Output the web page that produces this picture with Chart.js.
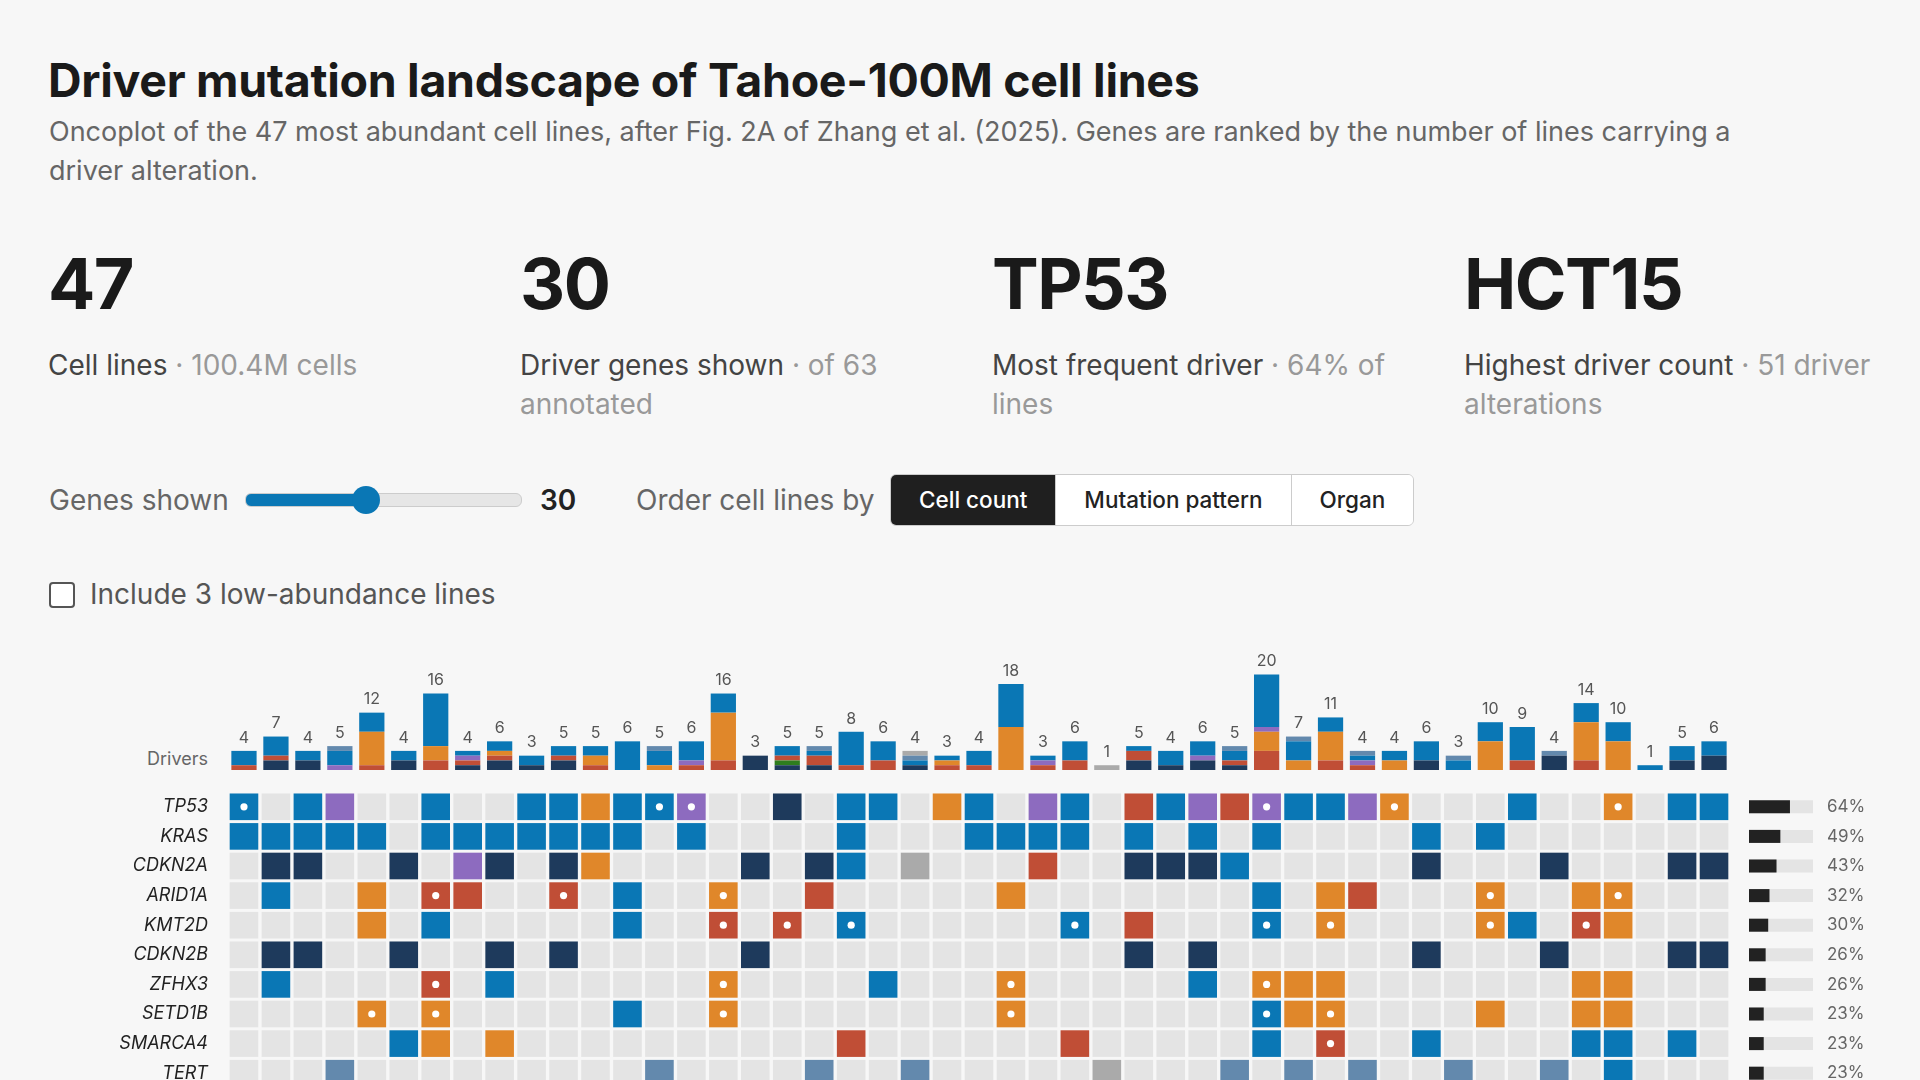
<!DOCTYPE html>
<html>
<head>
<meta charset="utf-8">
<script src="https://cdn.jsdelivr.net/npm/chart.js@4.4.1/dist/chart.umd.min.js"></script>
<style>
  html, body { margin: 0; width: 1920px; height: 1080px; overflow: hidden; background: #f7f7f7; font-family: Inter, "Noto Sans", sans-serif; color: #1a1a1a; }
  .abs { position: absolute; }
  h1 { margin: 0; font-size: 46.5px; font-weight: 700; line-height: 54px; letter-spacing: -0.3px; }
  .sub { font-size: 27px; line-height: 39px; color: #666; width: 1760px; }
  .stat { width: 420px; }
  .stat .big { font-size: 70px; font-weight: 700; line-height: 80px; letter-spacing: -1.5px; }
  .stat .lbl { font-size: 28px; line-height: 39px; color: #444; margin-top: 22px; }
  .stat .lbl span { color: #999; }
  .ctl { font-size: 28px; color: #666; line-height: 32px; }
  input[type=range] { -webkit-appearance: none; appearance: none; width: 275px; height: 12px; border-radius: 6px; margin: 0;
    background: linear-gradient(to right, #0a77b5 0%, #0a77b5 43%, #e6e6e6 43%, #e6e6e6 100%); border: 1px solid #ccc; }
  input[type=range]::-webkit-slider-thumb { -webkit-appearance: none; width: 28px; height: 28px; border-radius: 50%; background: #0a77b5; border: none; }
  .btns { display: flex; border: 1px solid #ccc; border-radius: 6px; overflow: hidden; height: 50px; }
  .btns div { font-size: 22.5px; font-weight: 500; padding: 0 28px; line-height: 50px; color: #222; background: #fff; border-left: 1px solid #ccc; }
  .btns div:first-child { border-left: none; background: #1f1f1f; color: #fff; }
  .chk { width: 22px; height: 22px; border: 2px solid #555; border-radius: 4px; background: #fff; }
</style>
</head>
<body>
<h1 class="abs" style="left:48px;top:53px">Driver mutation landscape of Tahoe-100M cell lines</h1>
<div class="abs sub" style="left:49px;top:112px">Oncoplot of the 47 most abundant cell lines, after Fig. 2A of Zhang et al. (2025). Genes are ranked by the number of lines carrying a driver alteration.</div>

<div class="abs stat" style="left:48px;top:244px"><div class="big">47</div><div class="lbl">Cell lines <span>· 100.4M cells</span></div></div>
<div class="abs stat" style="left:520px;top:244px"><div class="big">30</div><div class="lbl">Driver genes shown <span>· of 63 annotated</span></div></div>
<div class="abs stat" style="left:992px;top:244px"><div class="big">TP53</div><div class="lbl">Most frequent driver <span>· 64% of lines</span></div></div>
<div class="abs stat" style="left:1464px;top:244px"><div class="big">HCT15</div><div class="lbl">Highest driver count <span>· 51 driver alterations</span></div></div>

<div class="abs ctl" style="left:49px;top:484px">Genes shown</div>
<input class="abs" type="range" min="5" max="63" value="30" style="left:245px;top:493px">
<div class="abs ctl" style="left:540px;top:484px;color:#222;font-weight:600">30</div>
<div class="abs ctl" style="left:636px;top:484px">Order cell lines by</div>
<div class="abs btns" style="left:890px;top:474px"><div>Cell count</div><div>Mutation pattern</div><div>Organ</div></div>
<div class="abs chk" style="left:49px;top:582px"></div>
<div class="abs ctl" style="left:90px;top:578px;color:#555">Include 3 low-abundance lines</div>

<div class="abs" style="left:100px;top:748px;width:108px;text-align:right;font-size:18px;color:#666">Drivers</div>
<div class="abs" style="left:130px;top:640px;width:1600px;height:130px"><canvas id="graficaDrivers"></canvas></div>
<div class="abs" style="left:90px;top:792px;width:1640px;height:296px"><canvas id="graficaGrid"></canvas></div>
<div class="abs" style="left:1749px;top:792px;width:140px;height:296px"><canvas id="graficaFrec"></canvas></div>

<script>
// genes (rows) and one code per cell line (47 columns)
// B missense, N deletion, O truncating, R frameshift, P in-frame, S amplification, G other; lowercase = hotspot
const genes = ['TP53', 'KRAS', 'CDKN2A', 'ARID1A', 'KMT2D', 'CDKN2B', 'ZFHX3', 'SETD1B', 'SMARCA4', 'TERT'];
const filas = [
    'b.BP..B..BBOBbp..N.BB.OB.PB.RBPRpBBPo...B..o.BB',
    'BBBBB.BBBBBBB.B....B...BBBB.B.B.B....B.B.......',
    '.NN..N.PN.NO....N.NB.G...R..NNNB.....N...N...NN',
    '.B..O.rR..r.B..o..R.....O.......B.OR...o..Oo...',
    '....O.B.....B..r.r.b......b.R...b.o....oB.rO...',
    '.NN..N..N.N.....N...........N.N......N...N...NN',
    '.B....r.B......o....B...o.....B.oOO.......OO...',
    '....o.o.....B..o........o.......bOo....O..OO...',
    '.....BO.O..........R......R.....B.r..B....BB.B.',
    '...S.........S....S..S.....G...S.S.S..S..S.B...'
];

// drivers per cell line, by type (stacked bars on top)
const drvDelecion = [0,2,2,0,0,2,0,1,2,1,2,0,0,0,0,0,3,1,1,0,0,1,0,0,0,0,0,0,2,1,2,1,0,0,0,0,0,2,0,0,0,3,0,0,0,2,3];
const drvFusion   = [0,0,0,0,0,0,0,0,0,0,0,0,0,0,0,0,0,1,0,0,0,0,0,0,0,0,0,0,0,0,0,0,0,0,0,0,0,0,0,0,0,0,0,0,0,0,0];
const drvFrame    = [1,1,0,0,1,0,2,1,1,0,1,1,0,0,1,2,0,1,2,1,2,0,1,1,0,1,2,0,2,0,0,1,4,0,2,1,0,0,0,0,2,0,2,0,0,0,0];
const drvTrunc    = [0,0,0,0,7,0,3,0,1,0,0,2,0,1,0,10,0,0,0,0,0,0,1,0,9,0,0,0,0,0,0,0,4,2,6,0,2,0,0,6,0,0,8,6,0,0,0];
const drvInframe  = [0,0,0,1,0,0,0,1,0,0,0,0,0,0,1,0,0,0,0,0,0,0,0,0,0,1,0,0,0,0,1,0,1,0,0,1,0,0,0,0,0,0,0,0,0,0,0];
const drvMissense = [3,4,2,3,4,2,11,1,2,2,2,2,6,3,4,4,0,2,1,7,4,1,1,3,9,1,4,0,1,3,3,2,11,4,3,1,2,4,2,4,7,0,4,4,1,3,3];
const drvAmp      = [0,0,0,1,0,0,0,0,0,0,0,0,0,1,0,0,0,0,1,0,0,1,0,0,0,0,0,0,0,0,0,1,0,1,0,1,0,0,1,0,0,1,0,0,0,0,0];
const drvOtro     = [0,0,0,0,0,0,0,0,0,0,0,0,0,0,0,0,0,0,0,0,0,1,0,0,0,0,0,1,0,0,0,0,0,0,0,0,0,0,0,0,0,0,0,0,0,0,0];

const colores = { B: '#0a77b5', N: '#1e3a5c', O: '#e0872a', R: '#c04e36', P: '#8d6bbf', S: '#6389ad', G: '#aaaaaa', V: '#2e7d1e', '.': '#e4e4e4' };
const lineas = filas[0].split('').map((_, i) => 'L' + (i + 1));

const tipos = [
    ['Deletion', drvDelecion, colores.N], ['Fusion', drvFusion, colores.V], ['Frameshift', drvFrame, colores.R],
    ['Truncating', drvTrunc, colores.O], ['In-frame', drvInframe, colores.P], ['Missense', drvMissense, colores.B],
    ['Amplification', drvAmp, colores.S], ['Other', drvOtro, colores.G]
];

const totalesPlugin = {
    id: 'totales',
    afterDatasetsDraw(chart) {
        const { ctx, chartArea, scales } = chart;
        ctx.save();
        ctx.strokeStyle = '#dcdcdc';
        ctx.lineWidth = 3;
        ctx.beginPath();
        ctx.moveTo(chartArea.left - 2, chartArea.bottom + 1.5);
        ctx.lineTo(chartArea.right, chartArea.bottom + 1.5);
        ctx.stroke();
        ctx.fillStyle = '#555';
        ctx.font = '16px Inter';
        ctx.textAlign = 'center';
        ctx.textBaseline = 'bottom';
        lineas.forEach((l, i) => {
            const t = tipos.reduce((a, tp) => a + tp[1][i], 0);
            ctx.fillText(t, scales.x.getPixelForValue(i), scales.y.getPixelForValue(t) - 5);
        });
        ctx.restore();
    }
};

new Chart(document.getElementById('graficaDrivers'), {
    type: 'bar',
    data: {
        labels: lineas,
        datasets: tipos.map(t => ({ label: t[0], data: t[1], backgroundColor: t[2], barPercentage: 0.79, categoryPercentage: 1 }))
    },
    options: {
        responsive: true, maintainAspectRatio: false, animation: false,
        layout: { padding: { left: 98, top: 0, right: 0, bottom: 0 } },
        plugins: { legend: { display: false }, tooltip: { enabled: false } },
        scales: {
            x: { stacked: true, display: false },
            y: { stacked: true, display: false, min: 0, max: 27.2 }
        }
    },
    plugins: [totalesPlugin]
});

// oncoplot grid
const celdas = genes.map((g, r) => ({
    type: 'bar',
    label: g,
    data: lineas.map(() => [r - 0.45, r + 0.45]),
    backgroundColor: filas[r].split('').map(c => colores[c.toUpperCase()]),
    barPercentage: 0.895, categoryPercentage: 1, grouped: false
}));
const puntos = genes.map((g, r) => ({
    type: 'line',
    label: g + ' hotspot',
    data: filas[r].split('').map(c => (c !== '.' && c === c.toLowerCase()) ? r : null),
    showLine: false, pointRadius: 3.6, pointBackgroundColor: '#fff', pointBorderWidth: 0
}));

const etiquetasGenes = {
    id: 'etiquetasGenes',
    afterDraw(chart) {
        const { ctx, chartArea, scales } = chart;
        ctx.save();
        ctx.fillStyle = '#222';
        ctx.font = 'italic 18px Inter';
        ctx.textAlign = 'right';
        ctx.textBaseline = 'middle';
        genes.forEach((g, i) => ctx.fillText(g, chartArea.left - 20, scales.y.getPixelForValue(i)));
        ctx.restore();
    }
};

new Chart(document.getElementById('graficaGrid'), {
    type: 'bar',
    data: { labels: lineas, datasets: puntos.concat(celdas) },
    options: {
        responsive: true, maintainAspectRatio: false, animation: false,
        layout: { padding: { left: 138, top: 0, right: 0, bottom: 0 }, autoPadding: false },
        plugins: { legend: { display: false }, tooltip: { enabled: false } },
        scales: {
            x: { type: 'category', display: false },
            y: { type: 'linear', display: false, min: -0.5, max: 9.5, reverse: true }
        }
    },
    plugins: [etiquetasGenes]
});

// gene frequency bars
const frecuencias = filas.map(f => Math.round(f.split('').filter(c => c !== '.').length / f.length * 100));
new Chart(document.getElementById('graficaFrec'), {
    type: 'bar',
    data: {
        labels: genes,
        datasets: [
            { data: frecuencias, backgroundColor: '#222', barPercentage: 0.44, categoryPercentage: 1, grouped: false },
            { data: genes.map(() => 100), backgroundColor: '#e4e4e4', barPercentage: 0.44, categoryPercentage: 1, grouped: false }
        ]
    },
    options: {
        indexAxis: 'y', responsive: true, maintainAspectRatio: false, animation: false,
        layout: { padding: { right: 76 } },
        plugins: { legend: { display: false }, tooltip: { enabled: false } },
        scales: { x: { display: false, min: 0, max: 100 }, y: { display: false } }
    },
    plugins: [{
        id: 'porcentajes',
        afterDatasetsDraw(chart) {
            const { ctx, chartArea, scales } = chart;
            ctx.save();
            ctx.fillStyle = '#666';
            ctx.font = '17px Inter';
            ctx.textBaseline = 'middle';
            frecuencias.forEach((p, i) => ctx.fillText(p + '%', chartArea.right + 14, scales.y.getPixelForValue(i)));
            ctx.restore();
        }
    }]
});
</script>
</body>
</html>
